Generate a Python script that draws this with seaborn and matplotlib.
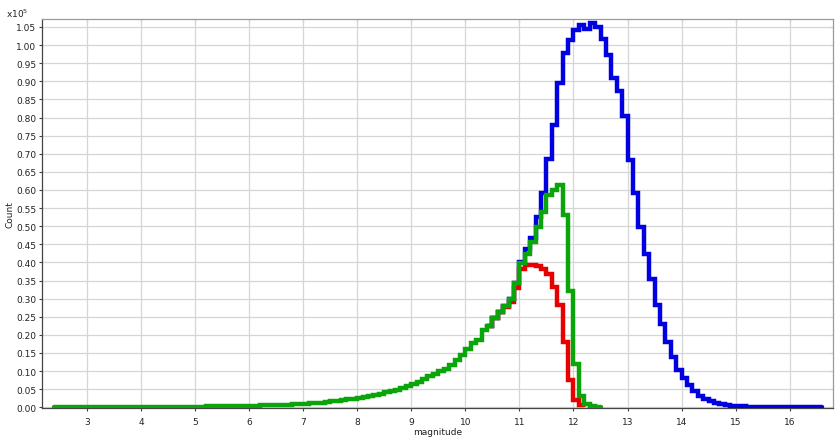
import numpy as np
import pandas as pd
import matplotlib
matplotlib.use("Agg")
import matplotlib.pyplot as plt
import seaborn as sns
from matplotlib.ticker import MultipleLocator, FormatStrFormatter

# ---- data (counts in units of 1e5, histogram bins of 0.1 mag) ----
bin_width = 0.1

green_start = 2.4
green_counts = [
    0.0005, 0.0005, 0.0005, 0.0005, 0.0006, 0.0006, 0.0007, 0.0007, 0.0008, 0.0008,
    0.0009, 0.0009, 0.0010, 0.0010, 0.0011, 0.0011, 0.0012, 0.0012, 0.0013, 0.0013,
    0.0014, 0.0015, 0.0016, 0.0017, 0.0018, 0.0019, 0.0020, 0.0021, 0.0022, 0.0024,
    0.0026, 0.0028, 0.0031, 0.0034, 0.0037, 0.0040, 0.0043, 0.0047, 0.0051, 0.0055,
    0.0060, 0.0065, 0.0070, 0.0076, 0.0083, 0.0090, 0.0098, 0.011, 0.012, 0.013,
    0.015, 0.017, 0.018, 0.020, 0.022, 0.024, 0.026, 0.028, 0.031, 0.034,
    0.037, 0.041, 0.045, 0.049, 0.054, 0.059, 0.065, 0.071, 0.079, 0.086,
    0.093, 0.099, 0.107, 0.118, 0.130, 0.144, 0.160, 0.178, 0.186, 0.213,
    0.224, 0.247, 0.262, 0.280, 0.300, 0.342, 0.397, 0.424, 0.456, 0.498,
    0.539, 0.587, 0.601, 0.614, 0.530, 0.320, 0.120, 0.030, 0.010, 0.004,
    0.002,
]

red_start = 10.4
red_counts = [
    0.224, 0.247, 0.262, 0.278, 0.290, 0.330,
    0.383, 0.392, 0.394, 0.390, 0.383, 0.369, 0.332, 0.282, 0.181, 0.075,
    0.020, 0.005,
]

blue_start = 10.4
blue_counts = [
    0.224, 0.247, 0.262, 0.280, 0.300, 0.342,
    0.401, 0.438, 0.466, 0.525, 0.591, 0.686, 0.778, 0.894, 0.977, 1.014,
    1.041, 1.056, 1.044, 1.062, 1.050, 1.017, 0.973, 0.909, 0.872, 0.805,
    0.683, 0.592, 0.498, 0.424, 0.355, 0.282, 0.229, 0.179, 0.140, 0.103,
    0.080, 0.061, 0.045, 0.031, 0.022, 0.016, 0.011, 0.008, 0.005, 0.004,
    0.003, 0.0025, 0.002, 0.0015, 0.0012, 0.0010, 0.0010, 0.0008, 0.0008, 0.0007,
    0.0006, 0.0006, 0.0005, 0.0005, 0.0004, 0.0004,
]

x_ticks = list(range(3, 17))

# ---- figure ----
sns.set_theme(style="whitegrid")
plt.rcParams["font.family"] = ["DejaVu Sans"]

fig = plt.figure(figsize=(8.35, 4.39), dpi=100)
ax = fig.add_axes([42 / 835, 1 - 409 / 439, (833 - 42) / 835, (409 - 20) / 439])
ax.set_facecolor("white")


def draw(start, counts, color, z):
    n = len(counts)
    edges = np.round(start + bin_width * np.arange(n + 1), 3)
    centers = (edges[:-1] + edges[1:]) / 2
    df = pd.DataFrame({"magnitude": centers, "count": counts})
    sns.histplot(data=df, x="magnitude", weights="count", bins=edges.tolist(),
                 element="step", fill=False, color=color, linewidth=3.2,
                 ax=ax, zorder=z, solid_joinstyle="miter")


draw(blue_start, blue_counts, "#0000e0", 3)
draw(red_start, red_counts, "#e60000", 4)
draw(green_start, green_counts, "#0aa50a", 5)

ax.set_xlim(2.17, 16.8)
ax.set_ylim(-0.002, 1.072)
ax.set_xticks(x_ticks)
ax.yaxis.set_major_locator(MultipleLocator(0.05))
ax.yaxis.set_major_formatter(FormatStrFormatter("%.2f"))

ax.grid(True, color="#d6d6d6", linewidth=0.9)
ax.set_axisbelow(True)

for side in ["left", "bottom"]:
    ax.spines[side].set_color("#444444")
    ax.spines[side].set_linewidth(0.9)
for side in ["top", "right"]:
    ax.spines[side].set_color("#9a9a9a")
    ax.spines[side].set_linewidth(0.9)

ax.tick_params(axis="both", which="major", direction="out", length=2.5,
               width=0.8, color="#444444", labelsize=6.5, labelcolor="#222222",
               left=True, bottom=True)
ax.tick_params(axis="y", pad=1.5)
ax.tick_params(axis="x", pad=4)

secx = ax.secondary_xaxis("top")
secx.set_xticks(x_ticks)
secx.tick_params(direction="in", length=2.5, width=0.8, color="#666666", labeltop=False)
secx.spines["top"].set_visible(False)
secy = ax.secondary_yaxis("right")
secy.yaxis.set_major_locator(MultipleLocator(0.05))
secy.tick_params(direction="in", length=2.5, width=0.8, color="#666666", labelright=False)
secy.spines["right"].set_visible(False)

ax.set_xlabel("magnitude", fontsize=6.5, labelpad=1, color="#222222")
ax.set_ylabel("Count", fontsize=6.5, labelpad=1, color="#222222")

fig.text(6 / 835, 1 - 14 / 439, r"x10$^5$", fontsize=6.5, color="#222222",
         ha="left", va="center")

fig.savefig("out.png", dpi=100, facecolor="white")
